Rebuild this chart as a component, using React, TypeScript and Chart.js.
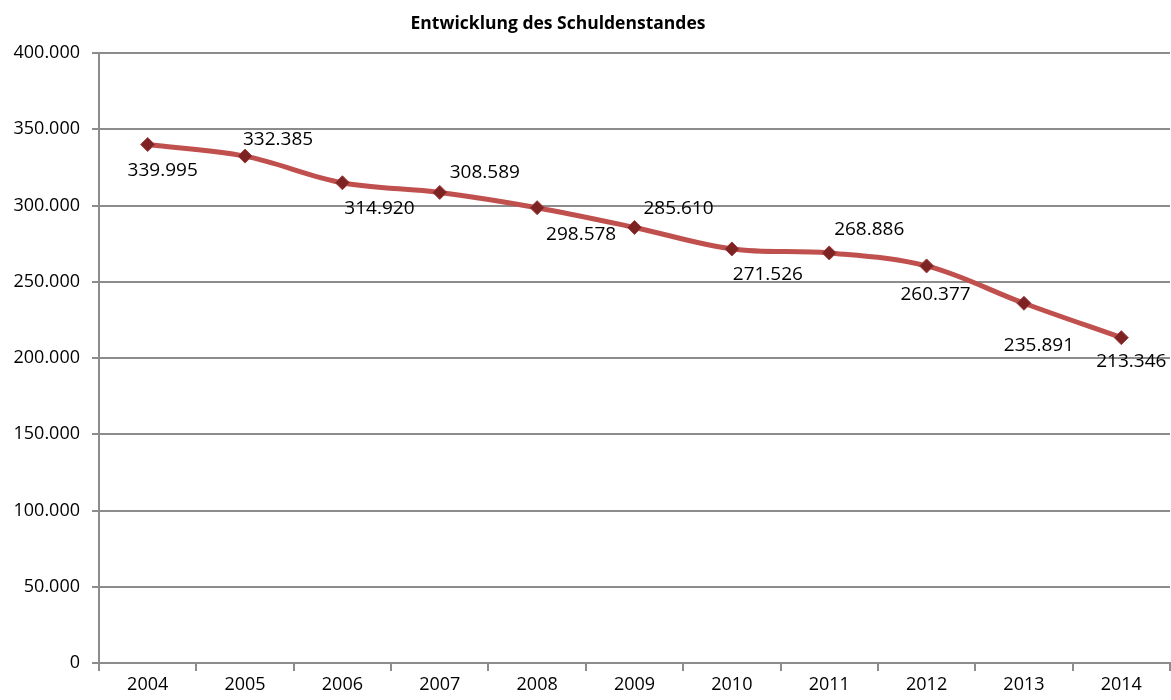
import React, { useEffect, useRef } from "react";
import { Chart, registerables } from "chart.js";

Chart.register(...registerables);

const years = ["2004", "2005", "2006", "2007", "2008", "2009", "2010", "2011", "2012", "2013", "2014"];
const debt = [339995, 332385, 314920, 308589, 298578, 285610, 271526, 268886, 260377, 235891, 213346];
// data label offsets (px) relative to each point
const labelDx = [15, 33, 37, 45, 44, 44, 36, 40, 9, 15, 10];
const labelDy = [26, -17, 26, -20, 27, -19, 26, -23, 29, 42, 24];
const titleText = "Entwicklung des Schuldenstandes";

const fmt = (v: number) => {
  if (v === 0) return "0";
  const s = Math.round(v).toString();
  return s.replace(/\B(?=(\d{3})+(?!\d))/g, ".");
};

const FONT = "'Open Sans', 'Noto Sans', sans-serif";

const labelPlugin = {
  id: "pointLabels",
  afterDatasetsDraw(chart: any) {
    const ctx = chart.ctx;
    const meta = chart.getDatasetMeta(0);
    ctx.save();
    ctx.fillStyle = "#000";
    ctx.font = `19px ${FONT}`;
    ctx.textAlign = "center";
    ctx.textBaseline = "middle";
    meta.data.forEach((pt: any, i: number) => {
      ctx.fillText(fmt(debt[i]), pt.x + labelDx[i], pt.y + labelDy[i]);
    });
    ctx.font = `bold 17.5px ${FONT}`;
    ctx.fillText(titleText, 558, 24);
    ctx.restore();
  },
};

export default function App() {
  const ref = useRef<HTMLCanvasElement | null>(null);
  useEffect(() => {
    document.body.style.margin = "0";
    const canvas = ref.current!;
    const chart = new Chart(canvas, {
      type: "line",
      data: {
        labels: years,
        datasets: [
          {
            data: debt,
            borderColor: "#C0504D",
            borderWidth: 5,
            tension: 0.35,
            pointStyle: "rectRot",
            pointRadius: 7,
            pointBackgroundColor: "#7E2323",
            pointBorderColor: "#9E3A3A",
            pointBorderWidth: 1,
            clip: false,
          },
        ],
      },
      options: {
        animation: false,
        responsive: false,
        maintainAspectRatio: false,
        layout: { autoPadding: false, padding: { top: 53, right: 1, left: 0, bottom: 0 } },
        plugins: {
          legend: { display: false },
          title: { display: false },
          tooltip: { enabled: false },
        },
        scales: {
          x: {
            offset: true,
            grid: {
              offset: true,
              drawOnChartArea: false,
              drawTicks: true,
              tickLength: 8,
              color: "#8c8c8c",
              lineWidth: 2,
            },
            border: { color: "#8c8c8c", width: 2 },
            ticks: {
              color: "#000",
              font: { family: FONT, size: 18 },
              padding: 3,
              maxRotation: 0,
            },
            afterFit(scale: any) {
              scale.height = 37;
              scale.paddingLeft = 0;
              scale.paddingRight = 0;
            },
          },
          y: {
            min: 0,
            max: 400000,
            ticks: {
              stepSize: 50000,
              color: "#000",
              font: { family: FONT, size: 18 },
              padding: 12,
              callback: (v: any) => fmt(Number(v)),
            },
            grid: {
              color: "#8c8c8c",
              lineWidth: 2,
              tickLength: 7,
            },
            border: { color: "#8c8c8c", width: 2 },
            afterFit(scale: any) {
              scale.width = 99;
            },
          },
        },
      },
      plugins: [labelPlugin],
    });
    return () => chart.destroy();
  }, []);
  return (
    <div style={{ position: "absolute", left: 0, top: 0, width: 1171, height: 700, background: "#fff" }}>
      <canvas ref={ref} width={1171} height={700} style={{ width: 1171, height: 700 }} />
    </div>
  );
}
